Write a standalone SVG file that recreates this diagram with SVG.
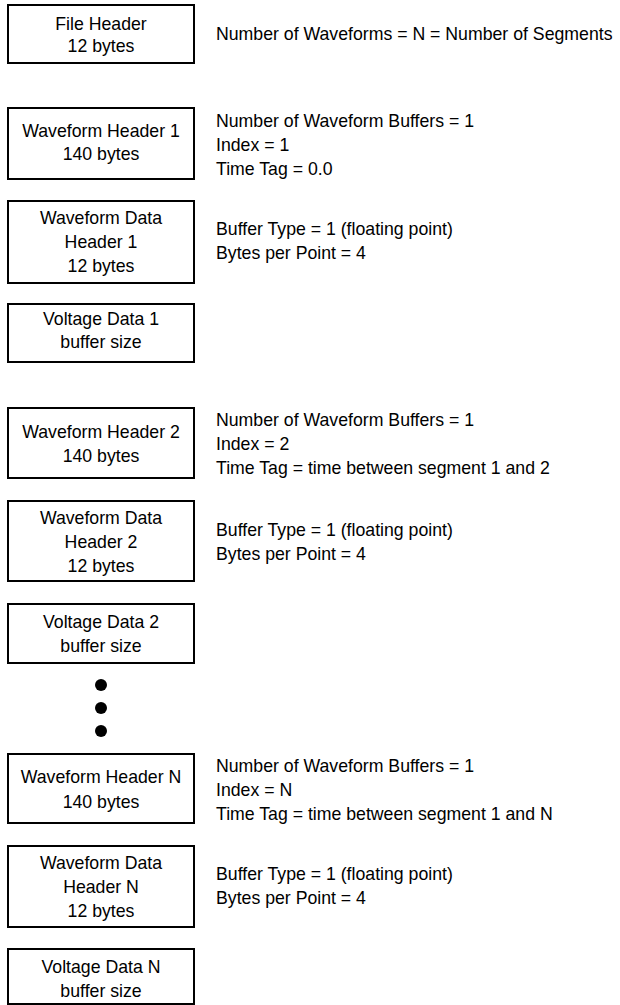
<svg xmlns="http://www.w3.org/2000/svg" width="620" height="1005" viewBox="0 0 620 1005">
<style>
.box{fill:#fff;stroke:#000;stroke-width:2}
.t{font-family:"Liberation Sans",Arial,sans-serif;font-size:17.7px;fill:#000}
.c{text-anchor:middle}
.dot{fill:#000}
</style>
<rect width="620" height="1005" fill="#fff"/>
<g id="file-header"><rect class="box" x="8" y="5" width="186" height="58"/>
<text class="t c" x="101" y="29.5">File Header</text><text class="t c" x="101" y="52">12 bytes</text></g>
<g id="file-header-note"><text class="t" x="216" y="39.5">Number of Waveforms = N = Number of Segments</text></g>

<g id="wh1"><rect class="box" x="8" y="108" width="186" height="71"/>
<text class="t c" x="101" y="136.7">Waveform Header 1</text><text class="t c" x="101" y="160.3">140 bytes</text></g>
<g id="wh1-note"><text class="t" x="216" y="126.7">Number of Waveform Buffers = 1</text><text class="t" x="216" y="150.7">Index = 1</text><text class="t" x="216" y="174.5">Time Tag = 0.0</text></g>

<g id="wdh1"><rect class="box" x="8" y="201" width="186" height="82"/>
<text class="t c" x="101" y="224">Waveform Data</text><text class="t c" x="101" y="247.7">Header 1</text><text class="t c" x="101" y="271.7">12 bytes</text></g>
<g id="wdh1-note"><text class="t" x="216" y="235">Buffer Type = 1 (floating point)</text><text class="t" x="216" y="259.3">Bytes per Point = 4</text></g>

<g id="vd1"><rect class="box" x="8" y="304" width="186" height="58"/>
<text class="t c" x="101" y="324.5">Voltage Data 1</text><text class="t c" x="101" y="348">buffer size</text></g>

<g id="wh2"><rect class="box" x="8" y="408" width="186" height="70"/>
<text class="t c" x="101" y="437.7">Waveform Header 2</text><text class="t c" x="101" y="461.7">140 bytes</text></g>
<g id="wh2-note"><text class="t" x="216" y="426">Number of Waveform Buffers = 1</text><text class="t" x="216" y="450">Index = 2</text><text class="t" x="216" y="474">Time Tag = time between segment 1 and 2</text></g>

<g id="wdh2"><rect class="box" x="8" y="501" width="186" height="80"/>
<text class="t c" x="101" y="524">Waveform Data</text><text class="t c" x="101" y="547.7">Header 2</text><text class="t c" x="101" y="571.7">12 bytes</text></g>
<g id="wdh2-note"><text class="t" x="216" y="536">Buffer Type = 1 (floating point)</text><text class="t" x="216" y="560">Bytes per Point = 4</text></g>

<g id="vd2"><rect class="box" x="8" y="604" width="186" height="59"/>
<text class="t c" x="101" y="628.3">Voltage Data 2</text><text class="t c" x="101" y="651.7">buffer size</text></g>

<g id="ellipsis"><circle class="dot" cx="101" cy="685" r="6"/><circle class="dot" cx="101" cy="708" r="6"/><circle class="dot" cx="101" cy="731" r="6"/></g>

<g id="whn"><rect class="box" x="8" y="754" width="186" height="69"/>
<text class="t c" x="101" y="783.3">Waveform Header N</text><text class="t c" x="101" y="807.5">140 bytes</text></g>
<g id="whn-note"><text class="t" x="216" y="771.7">Number of Waveform Buffers = 1</text><text class="t" x="216" y="795.7">Index = N</text><text class="t" x="216" y="820">Time Tag = time between segment 1 and N</text></g>

<g id="wdhn"><rect class="box" x="8" y="846" width="186" height="81"/>
<text class="t c" x="101" y="869.3">Waveform Data</text><text class="t c" x="101" y="893.3">Header N</text><text class="t c" x="101" y="916.7">12 bytes</text></g>
<g id="wdhn-note"><text class="t" x="216" y="880">Buffer Type = 1 (floating point)</text><text class="t" x="216" y="904">Bytes per Point = 4</text></g>

<g id="vdn"><rect class="box" x="8" y="949" width="186" height="55"/>
<text class="t c" x="101" y="973.3">Voltage Data N</text><text class="t c" x="101" y="996.7">buffer size</text></g>
<g id="connectors"></g>
</svg>
